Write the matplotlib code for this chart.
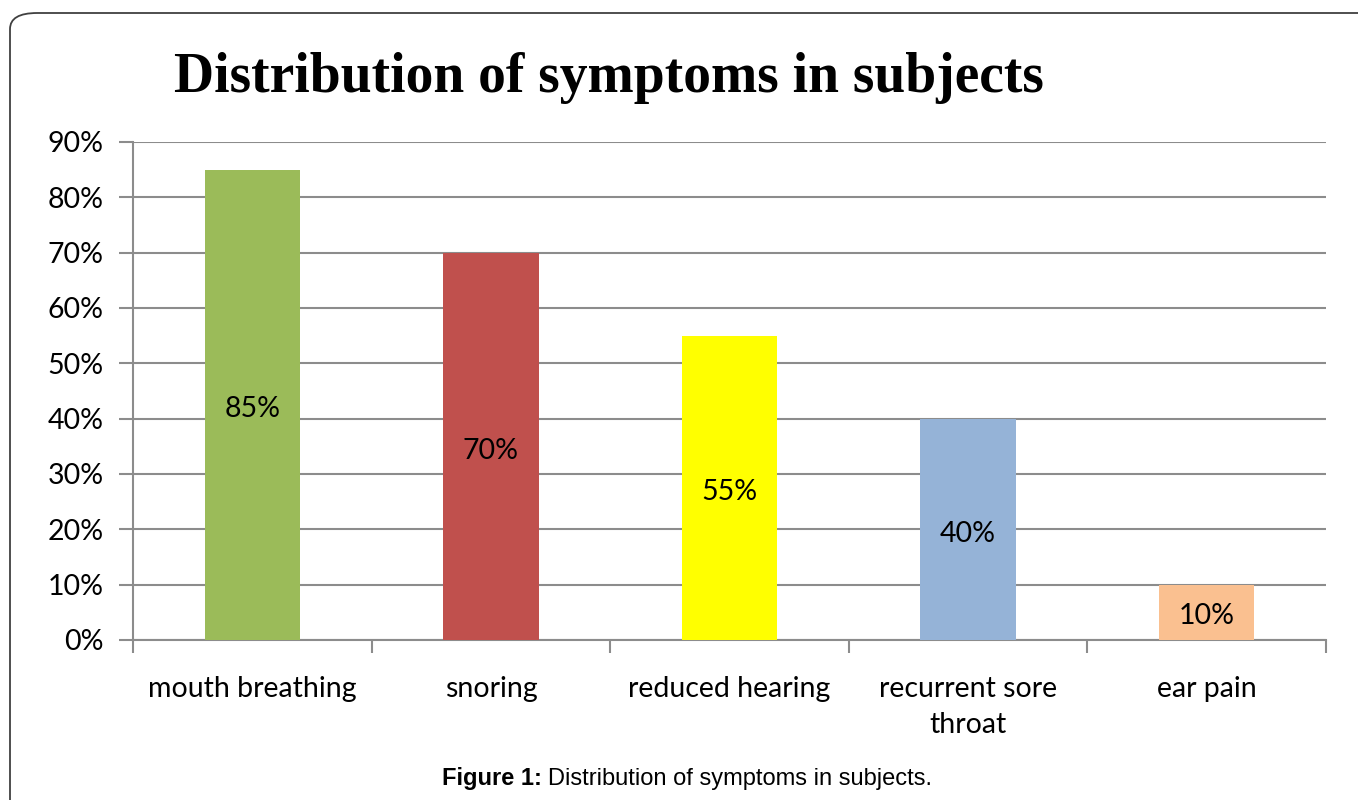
import matplotlib
matplotlib.use("Agg")
import matplotlib.pyplot as plt
from matplotlib.patches import FancyBboxPatch
from matplotlib.ticker import FixedLocator, PercentFormatter

# data
categories = ["mouth breathing", "snoring", "reduced hearing", "recurrent sore\nthroat", "ear pain"]
values = [0.85, 0.70, 0.55, 0.40, 0.10]
bar_labels = ["85%", "70%", "55%", "40%", "10%"]
colors = ["#9BBB59", "#C0504D", "#FFFF00", "#95B3D7", "#FAC090"]
y_ticks = [0, 0.1, 0.2, 0.3, 0.4, 0.5, 0.6, 0.7, 0.8, 0.9]

W, H = 1358, 800
fs = 20.5
fig = plt.figure(figsize=(W / 100, H / 100), dpi=100)

# rounded frame running off the right and bottom edges
frame = FancyBboxPatch((10 / W, -0.2), 1.2, (H - 13) / H + 0.2,
                       boxstyle="round,pad=0,rounding_size=0.02",
                       transform=fig.transFigure, fill=False,
                       edgecolor="#404040", linewidth=1.3)
fig.patches.append(frame)

ax = fig.add_axes([133 / W, 1 - 640 / H, (1326 - 133) / W, (640 - 142) / H])

x = list(range(len(categories)))
ax.bar(x, values, width=0.4, color=colors, zorder=3)
for xi, v, lab in zip(x, values, bar_labels):
    ax.annotate(lab, (xi, v / 2), xytext=(0, -3), textcoords="offset points",
                ha="center", va="center", fontsize=fs, family="Lato", zorder=4)

ax.set_xlim(-0.5, 4.5)
ax.set_ylim(0, 0.9)
ax.set_yticks(y_ticks)
ax.yaxis.set_major_formatter(PercentFormatter(1.0, decimals=0))
ax.grid(axis="y", color="#8c8c8c", linewidth=1.5, zorder=0)

ax.set_xticks(x)
ax.set_xticklabels(categories, family="Lato", fontsize=fs, linespacing=1.45)
ax.xaxis.set_minor_locator(FixedLocator([i - 0.5 for i in range(len(categories) + 1)]))
ax.tick_params(axis="x", which="major", length=0, pad=26)
ax.tick_params(axis="x", which="minor", length=9, width=1.5, color="#8c8c8c")
ax.tick_params(axis="y", length=10, width=1.5, color="#8c8c8c", pad=11, labelsize=fs)
for t in ax.get_yticklabels():
    t.set_family("Lato")

for s in ["top", "right"]:
    ax.spines[s].set_visible(False)
for s in ["left", "bottom"]:
    ax.spines[s].set_color("#8c8c8c")
    ax.spines[s].set_linewidth(1.5)

fig.text(609 / W, 1 - 78 / H, "Distribution of symptoms in subjects",
         ha="center", va="center", family="Liberation Serif",
         fontweight="bold", fontsize=40)

# caption: bold lead-in followed by plain text
cap1 = fig.text(442 / W, 1 - 779 / H, "Figure 1:", ha="left", va="center",
                family="Liberation Sans", fontweight="bold", fontsize=17)
fig.canvas.draw()
bb = cap1.get_window_extent()
fig.text((bb.x1 + 6) / W, 1 - 779 / H, "Distribution of symptoms in subjects.",
         ha="left", va="center", family="Liberation Sans", fontsize=17)

fig.savefig("out.png", dpi=100)
